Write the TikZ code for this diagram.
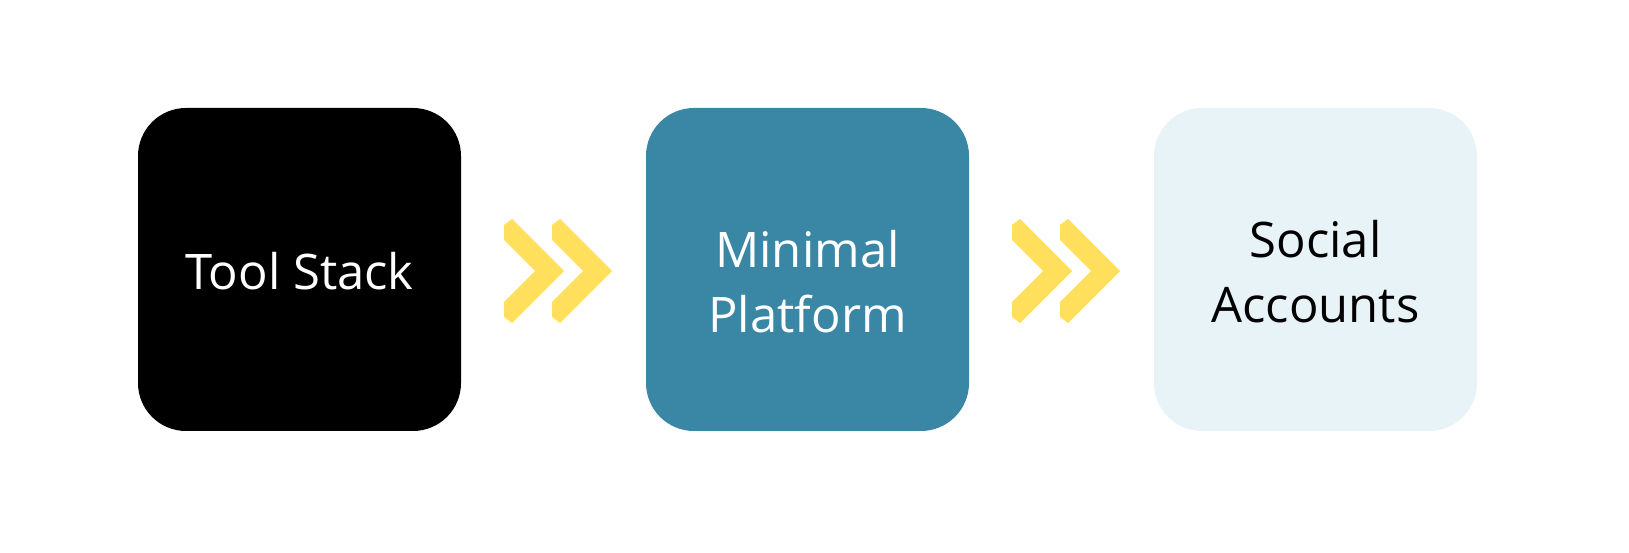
\documentclass[tikz,border=0pt]{standalone}
\usepackage{fontspec}
\setmainfont{Open Sans}
\definecolor{teal}{RGB}{57,134,165}
\definecolor{paleblue}{RGB}{232,243,248}
\definecolor{chevyellow}{RGB}{255,223,91}
\begin{document}
\begin{tikzpicture}[x=1pt,y=1pt,
  box/.style={minimum width=323pt,minimum height=323pt,rounded corners=48pt,inner sep=0pt,draw=none},
  lbl/.style={font=\fontsize{49}{65}\selectfont,align=center,inner sep=0pt},
  chev/.style={fill=chevyellow}]
\useasboundingbox (0,0) rectangle (1629,553);
\node[box,fill=black] (b1) at (299.5,283.5) {};
\node[box,fill=teal] (b2) at (807.5,283.5) {};
\node[box,fill=paleblue] (b3) at (1315.5,283.5) {};
\node[lbl,text=white] (t1) at ([yshift=-2pt]b1.center) {Tool Stack};
\node[lbl,text=white] (t2) at ([yshift=-12pt]b2.center) {Minimal\\Platform};
\node[lbl,text=black] (t3) at ([yshift=-2pt]b3.center) {Social\\Accounts};
\foreach \x in {504,552,1012,1060}{
  \fill[chev,shift={(\x,282)}] (8,52) -- (60,0) -- (8,-52) -- (0,-46) -- (0,-31) -- (31,0) -- (0,31) -- (0,46) -- cycle;
}
\end{tikzpicture}
\end{document}
